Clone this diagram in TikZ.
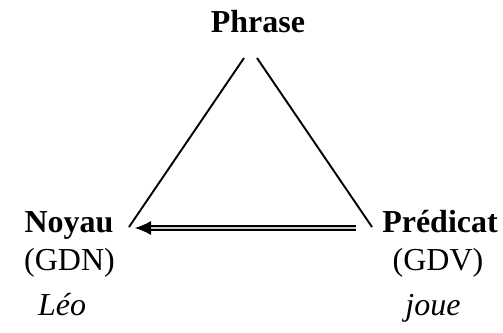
\documentclass[tikz,border=0pt]{standalone}
\usepackage{fontspec}
\setmainfont{Liberation Serif}
\usetikzlibrary{arrows.meta}
\tikzset{
  lbl/.style={anchor=base, inner sep=0pt, font=\fontsize{32}{36}\selectfont},
  head/.style={lbl, font=\fontsize{32}{36}\selectfont\bfseries},
  ex/.style={lbl, font=\fontsize{32}{36}\selectfont\itshape},
  edge/.style={line width=1.9pt},
  dbl/.style={double=gray!40, double distance=1.6pt, line width=2.2pt},
  tip/.style={line width=1pt, -{Latex[length=16pt,width=14pt]}}
}
\begin{document}
\begin{tikzpicture}[x=1pt,y=-1pt]
\useasboundingbox (0,0) rectangle (503,332);
\node[head] (phrase) at (258,32) {Phrase};
\node[head] (noyau) at (69,232) {Noyau};
\node[head] (pred) at (440,232) {Prédicat};
\node[lbl] (gdn) at (69.5,270) {(GDN)};
\node[lbl] (gdv) at (438,270) {(GDV)};
\node[ex] (leo) at (62,315) {Léo};
\node[ex] (joue) at (433,315) {joue};
\coordinate (lt) at (244,58);
\coordinate (lb) at (129,227);
\coordinate (rt) at (257,58);
\coordinate (rb) at (372,227);
\coordinate (as) at (356,228);
\coordinate (ah) at (146,228);
\coordinate (ae) at (135,228);
\draw[edge] (lt) -- (lb);
\draw[edge] (rt) -- (rb);
\draw[dbl] (as) -- (ah);
\draw[tip] (ah) -- (ae);
\end{tikzpicture}
\end{document}
